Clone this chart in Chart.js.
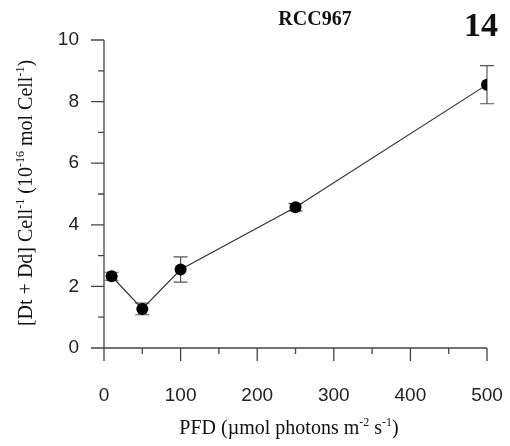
<!DOCTYPE html>
<html>
<head>
<meta charset="utf-8">
<script src="https://cdn.jsdelivr.net/npm/chart.js@4/dist/chart.umd.min.js"></script>
<style>
  html, body { margin: 0; padding: 0; background: #fff; }
  #wrap { width: 510px; height: 446px; }
</style>
</head>
<body>
<div id="wrap"><canvas id="pigChart" width="510" height="446"></canvas></div>
<script>
// values
const pfd = [10, 50, 100, 250, 500];
const pigment = [2.33, 1.27, 2.55, 4.57, 8.55];
const pigmentErr = [0.13, 0.19, 0.41, 0.12, 0.62];
const yMajor = [0, 2, 4, 6, 8, 10];
const yMinor = [1, 3, 5, 7, 9];
const xMajor = [0, 100, 200, 300, 400, 500];
const xMinor = [50, 150, 250, 350, 450];

const serif = '"Liberation Serif", "Times New Roman", serif';
const sans = '"Liberation Sans", Arial, sans-serif';

// draws text pieces, some of them superscript, centred on cx (baseline y)
function richWidth(ctx, parts, size) {
    let w = 0;
    parts.forEach(p => {
        ctx.font = (p[1] ? Math.round(size * 0.62) : size) + 'px ' + serif;
        w += ctx.measureText(p[0]).width;
    });
    return w;
}
function drawRich(ctx, parts, size, cx, y) {
    let x = cx - richWidth(ctx, parts, size) / 2;
    ctx.textAlign = 'left';
    ctx.textBaseline = 'alphabetic';
    parts.forEach(p => {
        ctx.font = (p[1] ? Math.round(size * 0.62) : size) + 'px ' + serif;
        ctx.fillText(p[0], x, p[1] ? y - size * 0.38 : y);
        x += ctx.measureText(p[0]).width;
    });
}

const axesPlugin = {
    id: 'axesPlugin',
    beforeDatasetsDraw(chart) {
        const ctx = chart.ctx;
        const xs = chart.scales.x, ys = chart.scales.y;
        ctx.save();
        ctx.strokeStyle = '#555';
        ctx.lineWidth = 1.2;
        pfd.forEach((v, i) => {
            const px = xs.getPixelForValue(v);
            const top = ys.getPixelForValue(pigment[i] + pigmentErr[i]);
            const bot = ys.getPixelForValue(pigment[i] - pigmentErr[i]);
            ctx.beginPath();
            ctx.moveTo(px, top); ctx.lineTo(px, bot);
            ctx.moveTo(px - 7, top); ctx.lineTo(px + 7, top);
            ctx.moveTo(px - 7, bot); ctx.lineTo(px + 7, bot);
            ctx.stroke();
        });
        ctx.restore();
    },
    afterDraw(chart) {
        const ctx = chart.ctx;
        const xs = chart.scales.x, ys = chart.scales.y;
        const x0 = xs.getPixelForValue(0), y0 = ys.getPixelForValue(0);
        const major = 13, minor = 6;
        ctx.save();
        ctx.strokeStyle = '#444';
        ctx.lineWidth = 1.3;
        ctx.beginPath();
        ctx.moveTo(x0, ys.getPixelForValue(10));
        ctx.lineTo(x0, y0 + major);
        ctx.moveTo(x0 - major, y0);
        ctx.lineTo(xs.getPixelForValue(500), y0);
        yMajor.forEach(v => {
            const p = ys.getPixelForValue(v);
            ctx.moveTo(x0 - major, p); ctx.lineTo(x0, p);
        });
        yMinor.forEach(v => {
            const p = ys.getPixelForValue(v);
            ctx.moveTo(x0 - minor, p); ctx.lineTo(x0, p);
        });
        xMajor.forEach(v => {
            const p = xs.getPixelForValue(v);
            ctx.moveTo(p, y0); ctx.lineTo(p, y0 + major);
        });
        xMinor.forEach(v => {
            const p = xs.getPixelForValue(v);
            ctx.moveTo(p, y0); ctx.lineTo(p, y0 + minor);
        });
        ctx.stroke();

        ctx.fillStyle = '#111';
        ctx.textAlign = 'center';
        ctx.textBaseline = 'middle';
        ctx.font = 'bold 20px ' + serif;
        ctx.fillText('RCC967', 315, 20);
        ctx.font = 'bold 34px ' + serif;
        ctx.fillText('14', 481, 27);

        drawRich(ctx, [['PFD (\u00b5mol photons m', 0], ['-2', 1], [' s', 0], ['-1', 1], [')', 0]], 20, 289, 434);

        ctx.translate(32, 193);
        ctx.rotate(-Math.PI / 2);
        drawRich(ctx, [['[Dt + Dd] Cell', 0], ['-1', 1], [' (10', 0], ['-16', 1], [' mol Cell', 0], ['-1', 1], [')', 0]], 20, 0, 0);
        ctx.restore();
    }
};

new Chart(document.getElementById('pigChart'), {
    type: 'scatter',
    data: {
        datasets: [{
            data: pfd.map((x, i) => ({ x: x, y: pigment[i] })),
            showLine: true,
            borderColor: '#333',
            borderWidth: 1.2,
            pointRadius: 6,
            pointHoverRadius: 6,
            pointBackgroundColor: '#000',
            pointBorderColor: '#000',
            pointBorderWidth: 0
        }]
    },
    plugins: [axesPlugin],
    options: {
        responsive: false,
        animation: false,
        devicePixelRatio: 1,
        layout: { padding: { left: 0, top: 40, right: 23, bottom: 0 } },
        plugins: { legend: { display: false }, tooltip: { enabled: false } },
        scales: {
            x: {
                type: 'linear',
                min: 0, max: 500,
                afterFit: s => { s.height = 98; s.paddingLeft = 0; s.paddingRight = 0; },
                grid: { display: false, drawTicks: false, tickLength: 0 },
                border: { display: false },
                ticks: { stepSize: 100, padding: 36, color: '#222', font: { family: sans, size: 19 }, maxRotation: 0 }
            },
            y: {
                min: 0, max: 10,
                afterFit: s => { s.width = 104; s.paddingTop = 0; s.paddingBottom = 0; },
                grid: { display: false, drawTicks: false, tickLength: 0 },
                border: { display: false },
                ticks: { stepSize: 2, padding: 25, color: '#222', font: { family: sans, size: 19 } }
            }
        }
    }
});
</script>
</body>
</html>
